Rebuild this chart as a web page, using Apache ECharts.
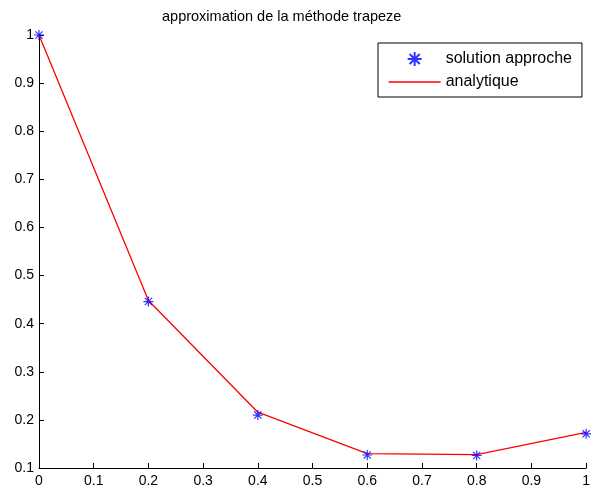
<!DOCTYPE html>
<html><head><meta charset="utf-8">
<script src="https://cdn.jsdelivr.net/npm/echarts@6/dist/echarts.min.js"></script>
<style>html,body{margin:0;padding:0;background:#fff}#c{width:593px;height:491px}</style>
</head><body><div id="c"></div>
<script>
var xs = [0, 0.2, 0.4, 0.6, 0.8, 1];
var approche = [1.0, 0.446, 0.210, 0.127, 0.126, 0.171];
var analytique = [1.0, 0.448, 0.216, 0.130, 0.128, 0.174];
var titleText = 'approximation de la méthode trapeze';
var seriesNames = ['solution approche', 'analytique'];

var FONT = 'Liberation Sans, Arial, sans-serif';
var star = 'path://M0,-5L0,5M-5,0L5,0M-3.6,-3.6L3.6,3.6M-3.6,3.6L3.6,-3.6';
function fmt(v){ return String(Math.round(v*10)/10); }

var chart = echarts.init(document.getElementById('c'), null, {renderer:'canvas'});
chart.setOption({
  animation:false,
  backgroundColor:'#fff',
  title:{text:titleText, left:157, top:4, textStyle:{fontFamily:FONT, fontSize:14.5, fontWeight:'normal', color:'#000'}},
  grid:{left:39, right:3, top:35, bottom:23, containLabel:false},
  legend:{
    orient:'vertical', left:378, top:43, padding:[8,10,7,10], itemGap:7,
    itemWidth:52, itemHeight:14,
    backgroundColor:'#fff', borderColor:'#000', borderWidth:1,
    textStyle:{fontFamily:FONT, fontSize:16, color:'#000'},
    data:[{name:seriesNames[0]},
          {name:seriesNames[1], itemStyle:{opacity:0}, lineStyle:{color:'#ff0000', width:1.3}}]
  },
  xAxis:{type:'value', min:0, max:1, interval:0.1,
    axisLine:{lineStyle:{color:'#000', width:1}},
    axisTick:{inside:true, length:5, lineStyle:{color:'#000'}},
    axisLabel:{formatter:fmt, color:'#000', fontFamily:FONT, fontSize:14, margin:6},
    splitLine:{show:false}},
  yAxis:{type:'value', min:0.1, max:1, interval:0.1,
    axisLine:{show:true, lineStyle:{color:'#000', width:1}},
    axisTick:{show:true, inside:true, length:5, lineStyle:{color:'#000'}},
    axisLabel:{formatter:fmt, color:'#000', fontFamily:FONT, fontSize:14, margin:5},
    splitLine:{show:false}},
  series:[
    {name:seriesNames[1], type:'line', data:xs.map(function(x,i){return [x, analytique[i]];}),
     symbol:'none', showSymbol:false, lineStyle:{color:'#ff0000', width:1.3}, itemStyle:{color:'#ff0000'}, z:2},
    {name:seriesNames[0], type:'scatter', data:xs.map(function(x,i){return [x, approche[i]];}),
     symbol:star, symbolSize:10,
     itemStyle:{color:'rgba(0,0,0,0)', borderColor:'#0000ff', borderWidth:1.2}, z:3}
  ]
});
</script></body></html>
